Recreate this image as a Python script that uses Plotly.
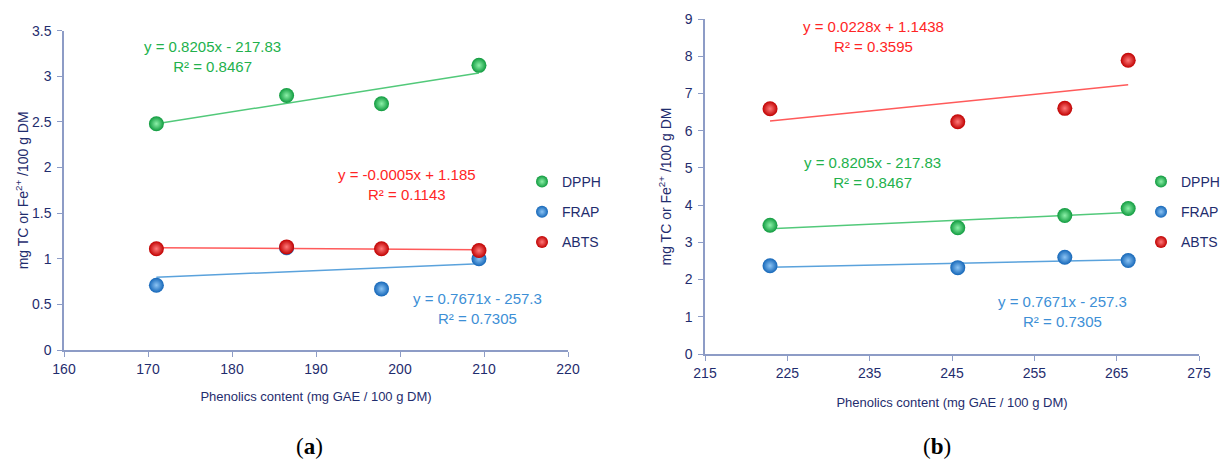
import numpy as np
import plotly.graph_objects as go

# ---------------- data ----------------
# Panel (a)
phen_a = [171.0, 186.5, 197.8, 209.4]
dpph_a = [2.48, 2.79, 2.70, 3.12]
frap_a = [0.71, 1.12, 0.67, 1.00]
abts_a = [1.11, 1.13, 1.11, 1.09]

# Panel (b)
phen_b = [222.9, 245.7, 258.7, 266.4]
dpph_b = [3.46, 3.39, 3.72, 3.91]
frap_b = [2.37, 2.32, 2.60, 2.51]
abts_b = [6.59, 6.24, 6.60, 7.89]

series_names = ["DPPH", "FRAP", "ABTS"]

eq_a = {"DPPH": ("y = 0.8205x - 217.83", "R² = 0.8467"),
        "ABTS": ("y = -0.0005x + 1.185", "R² = 0.1143"),
        "FRAP": ("y = 0.7671x - 257.3", "R² = 0.7305")}
eq_b = {"ABTS": ("y = 0.0228x + 1.1438", "R² = 0.3595"),
        "DPPH": ("y = 0.8205x - 217.83", "R² = 0.8467"),
        "FRAP": ("y = 0.7671x - 257.3", "R² = 0.7305")}

x_title = "Phenolics content (mg GAE / 100 g DM)"
y_title = "mg TC or Fe<sup>2+</sup> /100 g DM"

# ---------------- styles ----------------
W, H = 1230, 462
marker_col = {"DPPH": "#0f9a3e", "FRAP": "#1466b8", "ABTS": "#c00000"}
marker_hi = {"DPPH": "#8cf0a8", "FRAP": "#8cc4f4", "ABTS": "#ff7a7a"}
line_col = {"DPPH": "#52c97a", "FRAP": "#5aa2dc", "ABTS": "#ff5a5a"}
text_col = {"DPPH": "#22b14c", "FRAP": "#3d8fd6", "ABTS": "#ff2525"}
navy = "#1f2d6e"
axis_col = "#8d9cc6"
FONT = "Liberation Sans"


def px_x(p):
    return p / W


def px_y(p):
    return 1 - p / H


fig = go.Figure()

panels = [
    ("a", phen_a, {"DPPH": dpph_a, "FRAP": frap_a, "ABTS": abts_a}, "x", "y", "legend"),
    ("b", phen_b, {"DPPH": dpph_b, "FRAP": frap_b, "ABTS": abts_b}, "x2", "y2", "legend2"),
]

for tag, xs, ys, xr, yr, leg in panels:
    xs_arr = np.array(xs)
    # trend lines first (underneath markers)
    for name in series_names:
        k, b = np.polyfit(xs_arr, np.array(ys[name]), 1)
        xl = np.array([xs_arr.min(), xs_arr.max()])
        fig.add_trace(go.Scatter(
            x=xl, y=k * xl + b, mode="lines", xaxis=xr, yaxis=yr,
            line=dict(color=line_col[name], width=1.5),
            showlegend=False, hoverinfo="skip"))
    for rank, name in enumerate(series_names):
        fig.add_trace(go.Scatter(
            x=xs, y=ys[name], mode="markers", name=name, xaxis=xr, yaxis=yr,
            legend=leg, legendgroup=tag + name, legendrank=rank + 1,
            marker=dict(size=15, color=marker_col[name],
                        gradient=dict(type="radial", color=marker_hi[name]),
                        line=dict(width=0))))

axis_common = dict(showline=True, linecolor=axis_col, linewidth=1.5,
                   ticks="outside", ticklen=5, tickcolor=axis_col, tickwidth=1.2,
                   showgrid=False, zeroline=False, automargin=False,
                   tickfont=dict(family=FONT, size=14, color=navy))

fig.update_layout(
    width=W, height=H,
    margin=dict(l=0, r=0, t=0, b=0, autoexpand=False),
    plot_bgcolor="white", paper_bgcolor="white",
    font=dict(family=FONT, color=navy),
    xaxis=dict(domain=[px_x(64), px_x(568)], range=[160, 220], dtick=10, tick0=160,
               anchor="y", ticklabelstandoff=0,
               title=dict(text=x_title, font=dict(family=FONT, size=13, color=navy), standoff=16),
               **axis_common),
    yaxis=dict(domain=[px_y(350), px_y(30.7)], range=[0, 3.5], dtick=0.5, tick0=0,
               anchor="x", ticklabelstandoff=3,
               title=dict(text=y_title, font=dict(family=FONT, size=14, color=navy), standoff=0),
               **axis_common),
    xaxis2=dict(domain=[px_x(705), px_x(1199)], range=[215, 275], dtick=10, tick0=215,
                anchor="y2", ticklabelstandoff=0,
                title=dict(text=x_title, font=dict(family=FONT, size=13, color=navy), standoff=18),
                **axis_common),
    yaxis2=dict(domain=[px_y(354), px_y(19)], range=[0, 9], dtick=1, tick0=0,
                anchor="x2", ticklabelstandoff=3,
                title=dict(text=y_title, font=dict(family=FONT, size=14, color=navy), standoff=10),
                **axis_common),
    legend=dict(x=px_x(522), y=px_y(166), xanchor="left", yanchor="top",
                bgcolor="rgba(0,0,0,0)", font=dict(family=FONT, size=14, color=navy),
                tracegroupgap=9, itemsizing="constant", traceorder="grouped"),
    legend2=dict(x=px_x(1141), y=px_y(166), xanchor="left", yanchor="top",
                 bgcolor="rgba(0,0,0,0)", font=dict(family=FONT, size=14, color=navy),
                 tracegroupgap=9, itemsizing="constant", traceorder="grouped"),
    showlegend=True,
)

# equation annotations (positions in pixels of the page)
eq_pos_a = {"DPPH": (212, 56), "ABTS": (407, 184), "FRAP": (477, 308)}
eq_pos_b = {"ABTS": (873, 36), "DPPH": (872, 173), "FRAP": (1062, 311)}
for eqs, pos in ((eq_a, eq_pos_a), (eq_b, eq_pos_b)):
    for name, (l1, l2) in eqs.items():
        xp, yp = pos[name]
        fig.add_annotation(x=px_x(xp), y=px_y(yp), xref="paper", yref="paper",
                           text=l1 + "<br>" + l2, showarrow=False, align="center",
                           xanchor="center", yanchor="middle",
                           font=dict(family=FONT, size=15, color=text_col[name]))

# panel labels
for lab, xp in (("a", 309), ("b", 937)):
    fig.add_annotation(x=px_x(xp), y=px_y(446), xref="paper", yref="paper",
                       text="(<b>" + lab + "</b>)", showarrow=False,
                       xanchor="center", yanchor="middle",
                       font=dict(family="Liberation Serif", size=23, color="black"))

fig.write_html(
    "out.html",
    config={"displayModeBar": False},
    post_script="document.body.style.margin='0px';document.body.style.overflow='hidden';",
)
